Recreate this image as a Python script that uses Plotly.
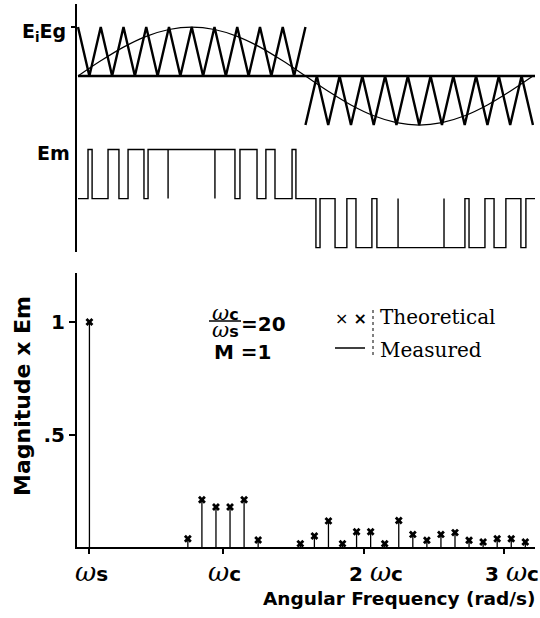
import plotly.graph_objects as go

# ---------------- data ----------------
# top panel: time in carrier periods (one reference period = 20 carrier periods)
carrier_pos_t = [0, 0.5, 1, 1.5, 2, 2.5, 3, 3.5, 4, 4.5, 5, 5.5, 6, 6.5, 7, 7.5, 8, 8.5, 9, 9.5, 10]
carrier_pos_v = [1, 0, 1, 0, 1, 0, 1, 0, 1, 0, 1, 0, 1, 0, 1, 0, 1, 0, 1, 0, 1]
carrier_neg_t = [10, 10.5, 11, 11.5, 12, 12.5, 13, 13.5, 14, 14.5, 15, 15.5, 16, 16.5, 17, 17.5, 18, 18.5, 19, 19.5, 20]
carrier_neg_v = [-1, 0, -1, 0, -1, 0, -1, 0, -1, 0, -1, 0, -1, 0, -1, 0, -1, 0, -1, 0, -1]
sine_t = [0, 1, 2, 3, 4, 5, 6, 7, 8, 9, 10, 11, 12, 13, 14, 15, 16, 17, 18, 19, 20]
sine_v = [0, 0.31, 0.59, 0.81, 0.95, 1.0, 0.95, 0.81, 0.59, 0.31, 0,
          -0.31, -0.59, -0.81, -0.95, -1.0, -0.95, -0.81, -0.59, -0.31, 0]
baseline_t = [0, 20.09]

# Em pulses: (rise, fall) edges
em_pos_rise = [0.44, 1.32, 2.20, 3.08, 3.96, 6.02, 7.12, 8.26, 9.41]
em_pos_fall = [0.62, 1.80, 2.90, 3.96, 6.02, 6.90, 7.87, 8.66, 9.58]
em_neg_rise = [10.46, 11.30, 12.22, 13.14, 14.07, 16.09, 17.19, 18.29, 19.47]
em_neg_fall = [10.64, 11.82, 12.92, 14.07, 16.09, 17.01, 17.89, 18.81, 19.69]

# spectrum: harmonic order (multiples of ws) and magnitude (x Em)
harmonics = [1, 15, 17, 19, 21, 23, 25,
             31, 33, 35, 37, 39, 41, 43, 45, 47, 49, 51, 53, 55, 57, 59, 61, 63]
magnitude = [1.0, 0.037, 0.21, 0.178, 0.178, 0.21, 0.031,
             0.015, 0.049, 0.116, 0.015, 0.068, 0.068, 0.015, 0.118, 0.056,
             0.03, 0.056, 0.064, 0.03, 0.022, 0.037, 0.037, 0.022]
x_tick_vals = [1, 20, 40, 60]
x_tick_text = ["ωs", "ωc", "2 ωc", "3 ωc"]
y_tick_vals = [0.5, 1]
y_tick_text = [".5", "1"]

# ---------------- layout helpers ----------------
W, H = 540, 618
EM_OFFSET = -2.5
def px(x):
    return x / W
def py(y):
    return 1 - y / H

fig = go.Figure()

# top waveform baseline
fig.add_trace(go.Scatter(x=baseline_t, y=[0, 0], mode="lines",
                         line=dict(color="black", width=2.6), xaxis="x", yaxis="y"))
# carrier triangles
fig.add_trace(go.Scatter(x=carrier_pos_t, y=carrier_pos_v, mode="lines",
                         line=dict(color="black", width=2.4), xaxis="x", yaxis="y"))
fig.add_trace(go.Scatter(x=carrier_neg_t, y=carrier_neg_v, mode="lines",
                         line=dict(color="black", width=2.4), xaxis="x", yaxis="y"))
# reference sine
fig.add_trace(go.Scatter(x=sine_t, y=sine_v, mode="lines", line_shape="spline",
                         line=dict(color="black", width=1.2), xaxis="x", yaxis="y"))

# Em PWM waveform
ex, ey = [baseline_t[0]], [EM_OFFSET]
for rises, falls, s in ((em_pos_rise, em_pos_fall, 1), (em_neg_rise, em_neg_fall, -1)):
    for r, f in zip(rises, falls):
        ex += [r, r, f, f]
        ey += [EM_OFFSET, EM_OFFSET + s, EM_OFFSET + s, EM_OFFSET]
ex.append(baseline_t[1])
ey.append(EM_OFFSET)
fig.add_trace(go.Scatter(x=ex, y=ey, mode="lines",
                         line=dict(color="black", width=1.4), xaxis="x", yaxis="y"))

# spectrum stems (measured)
sx, sy = [], []
for h, m in zip(harmonics, magnitude):
    sx += [h, h, None]
    sy += [0, m, None]
fig.add_trace(go.Scatter(x=sx, y=sy, mode="lines",
                         line=dict(color="black", width=1.3), xaxis="x2", yaxis="y2"))
# theoretical markers
fig.add_trace(go.Scatter(x=harmonics, y=magnitude, mode="markers",
                         marker=dict(symbol="x", size=7, color="black"),
                         xaxis="x2", yaxis="y2"))

BOLD = "DejaVu Sans"
SERIF = "DejaVu Serif"

annotations = []
def ann(text, x, y, size, xanchor="center", family=BOLD, textangle=0):
    annotations.append(dict(text=text, x=px(x), y=py(y), xref="paper", yref="paper",
                            xanchor=xanchor, yanchor="middle", showarrow=False,
                            textangle=textangle,
                            font=dict(family=family, size=size, color="black")))

def omega_label(t, om_size):
    pre, post = t.split("ω")
    out = ""
    if pre:
        out += "<b>" + pre + "</b>"
    om = "<span style='font-family:DejaVu Serif;font-size:%dpx'><i>ω</i></span>" % om_size
    return out + om + "<b>" + post + "</b>"

ann("<b>E<sub>i</sub>Eg</b>", 68, 33, 19, xanchor="right")
ann("<b>Em</b>", 72, 153, 19, xanchor="right")
ann("<b>Magnitude x Em</b>", 22, 396, 22, textangle=-90)
ann("<b>Angular Frequency (rad/s)</b>", 538, 598, 18.5, xanchor="right")

# x tick labels
tick_px = [91, 224, 376, 512]
for t, xp in zip(x_tick_text, tick_px):
    ann(omega_label(t, 26), xp, 572, 20)

# ratio text
ann(omega_label("ωc", 21), 225, 313, 16)
ann(omega_label("ωs", 21), 225, 330, 16)
ann("<b>=20</b>", 239, 324, 20, xanchor="left")
ann("<b>M =1</b>", 212, 352, 20, xanchor="left")
# legend
ann("× <b>×</b>", 351, 318, 16)
ann("Theoretical", 378, 317, 20, xanchor="left", family=SERIF)
ann("Measured", 378, 350, 20, xanchor="left", family=SERIF)

shapes = [
    dict(type="line", xref="paper", yref="paper", x0=px(209), x1=px(241), y0=py(321), y1=py(321),
         line=dict(color="black", width=1.5)),
    dict(type="line", xref="paper", yref="paper", x0=px(373), x1=px(373), y0=py(310), y1=py(358),
         line=dict(color="black", width=1, dash="dot")),
    dict(type="line", xref="paper", yref="paper", x0=px(335), x1=px(365), y0=py(348), y1=py(348),
         line=dict(color="black", width=1.5)),
]

fig.update_layout(
    width=W, height=H, margin=dict(l=0, r=0, t=0, b=0),
    paper_bgcolor="white", plot_bgcolor="white", showlegend=False,
    annotations=annotations, shapes=shapes,
    xaxis=dict(domain=[px(77), 1.0], range=[-0.044, 20.31], anchor="y",
               showline=False, showgrid=False, zeroline=False, showticklabels=False, ticks=""),
    yaxis=dict(domain=[py(252), py(4)], range=[-3.59, 1.47], anchor="x",
               showline=True, linecolor="black", linewidth=2, showgrid=False, zeroline=False,
               ticks="outside", tickvals=[1], ticklen=4, tickwidth=1.5, tickcolor="black",
               showticklabels=False),
    xaxis2=dict(domain=[px(77), px(535)], range=[-0.768, 64.38], anchor="y2",
                showline=True, linecolor="black", linewidth=2, showgrid=False, zeroline=False,
                ticks="outside", tickvals=x_tick_vals, ticklen=5, tickwidth=1.5, tickcolor="black",
                showticklabels=False),
    yaxis2=dict(domain=[py(547), py(273)], range=[0, 1.218], anchor="x2",
                showline=True, linecolor="black", linewidth=2, showgrid=False, zeroline=False,
                ticks="outside", tickvals=y_tick_vals, ticktext=["<b>%s</b>" % t for t in y_tick_text],
                ticklen=6, tickwidth=1.5, tickcolor="black",
                tickfont=dict(family=BOLD, size=20, color="black")),
)

fig.write_html("out.html")
